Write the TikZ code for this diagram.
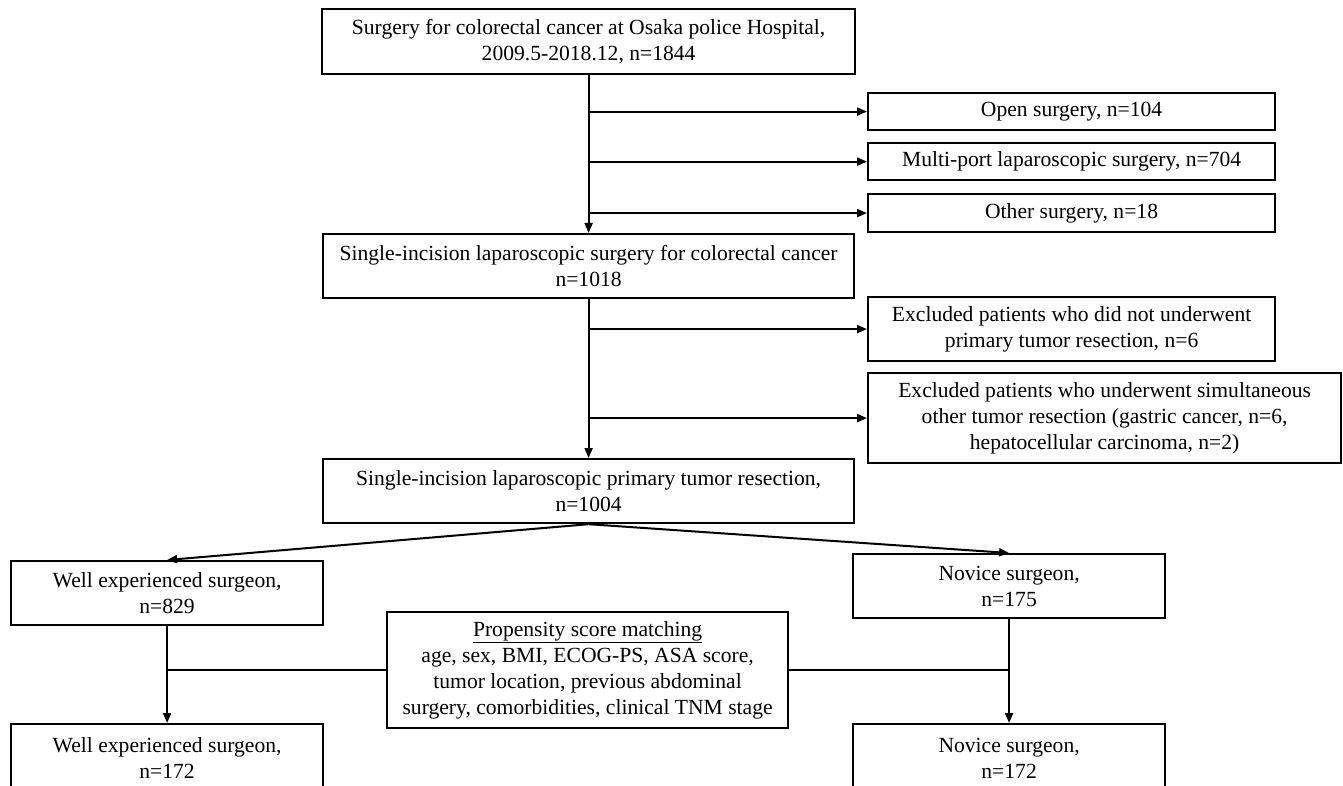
\documentclass[tikz,border=0pt]{standalone}
\usepackage{fontspec}
\setmainfont{Liberation Serif}
\usetikzlibrary{arrows.meta,positioning,calc}

\begin{document}
\begin{tikzpicture}[x=1pt,y=-1pt,>={Triangle[length=10pt,width=8pt]},line width=2pt,
	box/.style={draw,line width=2.2pt,align=center,inner sep=0pt,anchor=north west,
		font=\fontsize{21.6}{26}\selectfont}]
	\useasboundingbox[fill=white] (0,0) rectangle (1343,786);
	% main column
	\node[box,minimum width=533,minimum height=65] (t0) at (321,8) {Surgery for colorectal cancer at Osaka police Hospital,\\ 2009.5-2018.12, n=1844};
	\node[box,minimum width=531,minimum height=64] (t1) at (322,233) {Single-incision laparoscopic surgery for colorectal cancer\\ n=1018};
	\node[box,minimum width=531,minimum height=64] (t2) at (322,458) {Single-incision laparoscopic primary tumor resection,\\ n=1004};
	% excluded
	\node[box,minimum width=407,minimum height=37] (open) at (867,92) {Open surgery, n=104};
	\node[box,minimum width=407,minimum height=37] (multi) at (867,142) {Multi-port laparoscopic surgery, n=704};
	\node[box,minimum width=407,minimum height=38] (other) at (867,193) {Other surgery, n=18};
	\node[box,minimum width=407,minimum height=64] (ex1) at (867,296) {Excluded patients who did not underwent\\ primary tumor resection, n=6};
	\node[box,minimum width=473,minimum height=90] (ex2) at (867,372) {Excluded patients who underwent simultaneous\\ other tumor resection (gastric cancer, n=6,\\ hepatocellular carcinoma, n=2)};
	% groups
	\node[box,minimum width=312,minimum height=64] (well) at (10,560) {Well experienced surgeon,\\ n=829};
	\node[box,minimum width=312,minimum height=64] (nov) at (852,553) {Novice surgeon,\\ n=175};
	\node[box,minimum width=401,minimum height=116] (psm) at (386,611) {\underline{Propensity score matching}\\ age, sex, BMI, ECOG-PS, ASA score,\\ tumor location, previous abdominal\\ surgery, comorbidities, clinical TNM stage};
	\node[box,minimum width=312,minimum height=68] (well2) at (10,723) {Well experienced surgeon,\\ n=172};
	\node[box,minimum width=312,minimum height=68] (nov2) at (852,723) {Novice surgeon,\\ n=172};

	\draw[->] (t0.south) -- (t1.north);
	\draw[->] (t0.south |- open.west) -- (open.west);
	\draw[->] (t0.south |- multi.west) -- (multi.west);
	\draw[->] (t0.south |- other.west) -- (other.west);
	\draw[->] (t1.south) -- (t2.north);
	\draw[->] (t1.south |- ex1.west) -- (ex1.west);
	\draw[->] (t1.south |- ex2.west) -- (ex2.west);
	\draw[->] (t2.south) -- (well.north);
	\draw[->] (t2.south) -- (nov.north);
	\draw[->] (well.south) -- (well2.north);
	\draw[->] (nov.south) -- (nov2.north);
	\draw (psm.west) -- (well.south |- psm.west);
	\draw (psm.east) -- (nov.south |- psm.east);
\end{tikzpicture}
\end{document}
